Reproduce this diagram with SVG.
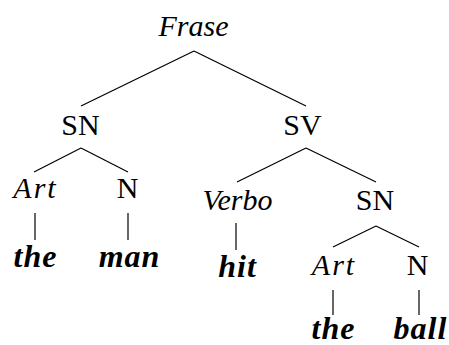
<svg xmlns="http://www.w3.org/2000/svg" width="449" height="345" viewBox="0 0 449 345">
<defs>
<style>
.edges line{stroke:#000;stroke-width:1.2}
</style>
</defs>
<rect width="449" height="345" fill="#fff"/>
<g class="edges" id="connectors">
<line x1="194" y1="51" x2="81" y2="106"/>
<line x1="194" y1="51" x2="306" y2="106"/>
<line x1="81" y1="148" x2="34" y2="172"/>
<line x1="81" y1="148" x2="128" y2="172"/>
<line x1="306" y1="148" x2="237" y2="182"/>
<line x1="306" y1="148" x2="376" y2="182"/>
<line x1="376" y1="226" x2="333" y2="247"/>
<line x1="376" y1="226" x2="419" y2="247"/>
<line x1="35" y1="213" x2="35" y2="240"/>
<line x1="128" y1="213" x2="128" y2="240"/>
<line x1="236" y1="223" x2="236" y2="250"/>
<line x1="333" y1="290" x2="333" y2="315"/>
<line x1="419" y1="290" x2="419" y2="315"/>
</g>
<g id="frase"><text font-family="Liberation Serif" font-size="30" text-anchor="middle" font-style="italic" x="193.5" y="36">Frase</text></g>
<g id="sn1"><text font-family="Liberation Serif" font-size="30" text-anchor="middle" x="80.5" y="135">SN</text></g>
<g id="sv"><text font-family="Liberation Serif" font-size="30" text-anchor="middle" x="302.5" y="135">SV</text></g>
<g id="art1"><text font-family="Liberation Serif" font-size="30" text-anchor="middle" font-style="italic" letter-spacing="2" x="35.5" y="198">Art</text></g>
<g id="n1"><text font-family="Liberation Serif" font-size="30" text-anchor="middle" x="127.5" y="198">N</text></g>
<g id="verbo"><text font-family="Liberation Serif" font-size="30" text-anchor="middle" font-style="italic" x="237.5" y="210">Verbo</text></g>
<g id="sn2"><text font-family="Liberation Serif" font-size="30" text-anchor="middle" x="375" y="210">SN</text></g>
<g id="the1"><text font-family="Liberation Serif" font-size="32" text-anchor="middle" font-style="italic" font-weight="bold" letter-spacing="1" x="35.5" y="267">the</text></g>
<g id="man"><text font-family="Liberation Serif" font-size="32" text-anchor="middle" font-style="italic" font-weight="bold" letter-spacing="1" x="129.5" y="267">man</text></g>
<g id="hit"><text font-family="Liberation Serif" font-size="32" text-anchor="middle" font-style="italic" font-weight="bold" letter-spacing="1" x="237.5" y="277">hit</text></g>
<g id="art2"><text font-family="Liberation Serif" font-size="30" text-anchor="middle" font-style="italic" letter-spacing="2" x="334" y="275">Art</text></g>
<g id="n2"><text font-family="Liberation Serif" font-size="30" text-anchor="middle" x="417.5" y="275">N</text></g>
<g id="the2"><text font-family="Liberation Serif" font-size="32" text-anchor="middle" font-style="italic" font-weight="bold" letter-spacing="1" x="333.5" y="339">the</text></g>
<g id="ball"><text font-family="Liberation Serif" font-size="32" text-anchor="middle" font-style="italic" font-weight="bold" letter-spacing="1" x="420.5" y="339">ball</text></g>
</svg>
